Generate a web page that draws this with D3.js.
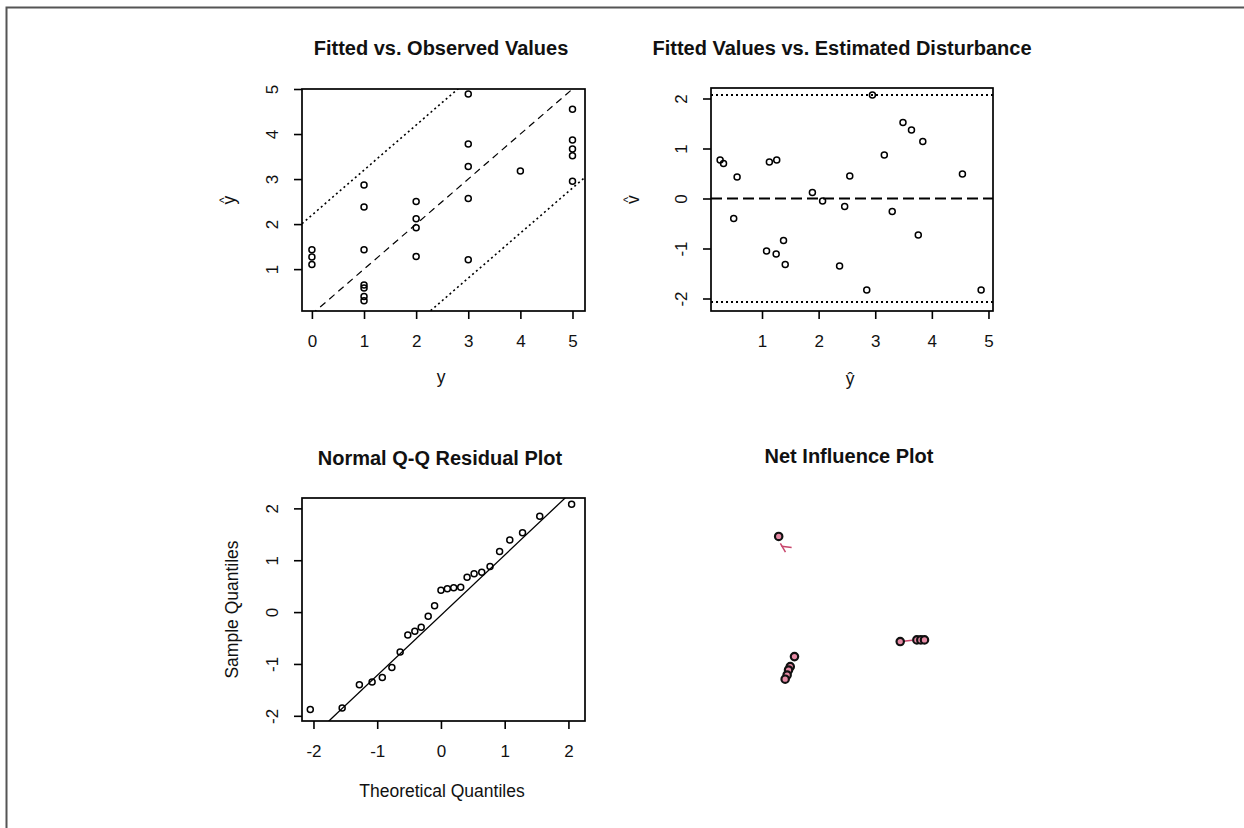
<!DOCTYPE html>
<html>
<head>
<meta charset="utf-8">
<script src="https://cdn.jsdelivr.net/npm/d3@7"></script>
<style>
  body { margin: 0; background: #fff; }
  svg { display: block; font-family: "Liberation Sans", Arial, sans-serif; }
</style>
</head>
<body>
<div id="chart"></div>
<script>
// =======================
// Data
// =======================
// Panel 1: observed y vs fitted y-hat
const observed = [0, 0, 0, 1, 1, 1, 1, 1, 1, 1, 2, 2, 2, 2, 3, 3, 3, 3, 3, 4, 5, 5, 5, 5, 5];
const fitted = [1.43, 1.27, 1.10, 2.87, 2.38, 1.43, 0.65, 0.58, 0.39, 0.30,
                2.50, 2.12, 1.92, 1.28, 4.89, 3.78, 3.28, 2.57, 1.21, 3.18,
                4.55, 3.87, 3.67, 3.52, 2.95];
const bandOffsets = [-2.2, 2.2];

// Panel 2: fitted values vs estimated disturbance
const fittedHat = [0.26, 0.32, 0.56, 0.50, 1.13, 1.26, 1.08, 1.25, 1.38, 1.41,
                   1.89, 2.07, 2.46, 2.55, 2.37, 2.85, 2.95, 3.16, 3.30, 3.49,
                   3.64, 3.84, 3.76, 4.54, 4.87];
const disturbance = [0.77, 0.70, 0.43, -0.40, 0.73, 0.77, -1.05, -1.11, -0.84, -1.32,
                     0.12, -0.05, -0.16, 0.45, -1.35, -1.83, 2.07, 0.87, -0.26, 1.52,
                     1.37, 1.14, -0.73, 0.49, -1.83];
const disturbanceBounds = [-2.07, 2.07];

// Panel 3: normal Q-Q
const theoretical = [-2.05, -1.55, -1.28, -1.08, -0.92, -0.77, -0.64, -0.52, -0.41, -0.31,
                     -0.20, -0.10, 0, 0.10, 0.20, 0.31, 0.41, 0.52, 0.64, 0.77,
                     0.92, 1.08, 1.28, 1.55, 2.05];
const sample = [-1.88, -1.85, -1.40, -1.35, -1.26, -1.07, -0.77, -0.44, -0.37, -0.29,
                -0.08, 0.12, 0.42, 0.45, 0.47, 0.48, 0.67, 0.74, 0.77, 0.88,
                1.17, 1.39, 1.53, 1.85, 2.08];
const qqCoef = [-0.06, 1.16]; // intercept, slope

// Panel 4: net influence (no axes, arbitrary units)
const influenceX = [2.40, 2.96, 2.81, 2.75, 2.70, 2.63, 6.71, 7.30, 7.44, 7.57];
const influenceY = [6.62, 2.31, 1.95, 1.83, 1.65, 1.50, 2.85, 2.91, 2.91, 2.91];
const influenceSegs = [[2.46, 6.37, 2.64, 6.06], [2.50, 6.27, 2.86, 6.22], [6.82, 2.86, 7.14, 2.90]];

// Tick values
const obsTicks = [0, 1, 2, 3, 4, 5];
const fitTicks = [1, 2, 3, 4, 5];
const hatTicks = [1, 2, 3, 4, 5];
const distTicks = [-2, -1, 0, 1, 2];
const qqTicks = [-2, -1, 0, 1, 2];

// =======================
// SVG
// =======================
const width = 1244, height = 828;
const svg = d3.select("#chart").append("svg")
    .attr("width", width)
    .attr("height", height);

svg.append("rect").attr("width", width).attr("height", height).attr("fill", "#fff");

// outer frame (top + left only)
svg.append("path")
    .attr("d", `M6.5,828V7.5H1244`)
    .attr("fill", "none")
    .attr("stroke", "#555")
    .attr("stroke-width", 2);

// =======================
// Helpers
// =======================
function panel(box, id) {
    const g = svg.append("g");
    g.append("clipPath").attr("id", id)
        .append("rect")
        .attr("x", box.x0).attr("y", box.y0)
        .attr("width", box.x1 - box.x0).attr("height", box.y1 - box.y0);
    return g;
}

function frameBox(g, box) {
    g.append("rect")
        .attr("x", box.x0).attr("y", box.y0)
        .attr("width", box.x1 - box.x0).attr("height", box.y1 - box.y0)
        .attr("fill", "none")
        .attr("stroke", "#000")
        .attr("stroke-width", 1.7);
}

function axes(g, box, xs, ys, xt, yt) {
    const ax = g.append("g")
        .attr("transform", `translate(0,${box.y1})`)
        .call(d3.axisBottom(xs).tickValues(xt).tickSize(8).tickFormat(d => String(d)));
    ax.select(".domain").remove();
    ax.selectAll("line").attr("stroke", "#000").attr("stroke-width", 1.6);
    ax.selectAll("text")
        .attr("y", 36).attr("dy", null)
        .attr("fill", "#111")
        .style("font-size", "17px");

    const ay = g.append("g")
        .attr("transform", `translate(${box.x0},0)`)
        .call(d3.axisLeft(ys).tickValues(yt).tickSize(8).tickFormat(d => String(d)));
    ay.select(".domain").remove();
    ay.selectAll("line").attr("stroke", "#000").attr("stroke-width", 1.6);
    ay.selectAll("text")
        .attr("transform", "rotate(-90)")
        .attr("x", 0).attr("y", -24).attr("dy", null)
        .attr("text-anchor", "middle")
        .attr("fill", "#111")
        .style("font-size", "17px");
}

function title(g, txt, x, y) {
    g.append("text")
        .attr("x", x).attr("y", y)
        .attr("text-anchor", "middle")
        .attr("font-weight", "bold")
        .attr("fill", "#111")
        .style("font-size", "20px")
        .text(txt);
}

function label(g, txt, x, y, rot) {
    g.append("text")
        .attr("transform", `translate(${x},${y}) rotate(${rot})`)
        .attr("text-anchor", "middle")
        .attr("fill", "#111")
        .style("font-size", "17.5px")
        .text(txt);
}

// letter with a hat above it, like R's hat(), kept in one text element
function hatLabel(g, letter, x, y, rot) {
    const t = g.append("text")
        .attr("transform", `translate(${x + 2},${y}) rotate(${rot})`)
        .attr("text-anchor", "middle")
        .attr("fill", "#111")
        .style("font-size", "17.5px");
    t.append("tspan").text(letter);
    t.append("tspan")
        .attr("dx", -7.4).attr("dy", -7.5)
        .style("font-size", "12px")
        .text("^");
}

function points(g, xs, ys, xv, yv) {
    g.append("g").selectAll("circle")
        .data(xv)
        .enter()
        .append("circle")
        .attr("cx", d => xs(d))
        .attr("cy", (d, i) => ys(yv[i]))
        .attr("r", 3)
        .attr("fill", "none")
        .attr("stroke", "#000")
        .attr("stroke-width", 1.5);
}

function abline(g, xs, ys, a, b, dash, sw, clipId) {
    const [d0, d1] = xs.domain();
    g.append("line")
        .attr("clip-path", `url(#${clipId})`)
        .attr("x1", xs(d0)).attr("y1", ys(a + b * d0))
        .attr("x2", xs(d1)).attr("y2", ys(a + b * d1))
        .attr("stroke", "#000")
        .attr("stroke-width", sw)
        .attr("stroke-dasharray", dash);
}

// =======================
// Panel 1: Fitted vs. Observed
// =======================
{
    const box = { x0: 302, x1: 585, y0: 89, y1: 311 };
    const g = panel(box, "c1");
    const x = d3.scaleLinear().domain([-0.19, 5.24]).range([box.x0, box.x1]);
    const y = d3.scaleLinear().domain([0.07, 5.0]).range([box.y1, box.y0]);

    abline(g, x, y, 0, 1, "7,5", 1.2, "c1");
    bandOffsets.forEach(a => abline(g, x, y, a, 1, "2,3", 1.6, "c1"));
    points(g, x, y, observed, fitted);
    frameBox(g, box);
    axes(g, box, x, y, obsTicks, fitTicks);

    title(g, "Fitted vs. Observed Values", 441, 55);
    label(g, "y", 441, 383, 0);
    hatLabel(g, "y", 233, 200, -90);
}

// =======================
// Panel 2: Fitted Values vs. Estimated Disturbance
// =======================
{
    const box = { x0: 711, x1: 993, y0: 88, y1: 311 };
    const g = panel(box, "c2");
    const x = d3.scaleLinear().domain([0.099, 5.08]).range([box.x0, box.x1]);
    const y = d3.scaleLinear().domain([-2.25, 2.21]).range([box.y1, box.y0]);

    abline(g, x, y, 0, 0, "11,5", 2, "c2");
    disturbanceBounds.forEach(a => abline(g, x, y, a, 0, "2,3", 2, "c2"));
    points(g, x, y, fittedHat, disturbance);
    frameBox(g, box);
    axes(g, box, x, y, hatTicks, distTicks);

    title(g, "Fitted Values vs. Estimated Disturbance", 842, 55);
    label(g, "ŷ", 850, 385, 0);
    hatLabel(g, "v", 637, 199.5, -90);
}

// =======================
// Panel 3: Normal Q-Q
// =======================
{
    const box = { x0: 302, x1: 585, y0: 498, y1: 721 };
    const g = panel(box, "c3");
    const x = d3.scaleLinear().domain([-2.18, 2.26]).range([box.x0, box.x1]);
    const y = d3.scaleLinear().domain([-2.1, 2.2]).range([box.y1, box.y0]);

    abline(g, x, y, qqCoef[0], qqCoef[1], null, 1.3, "c3");
    points(g, x, y, theoretical, sample);
    frameBox(g, box);
    axes(g, box, x, y, qqTicks, qqTicks);

    title(g, "Normal Q-Q Residual Plot", 440, 465);
    label(g, "Theoretical Quantiles", 442, 797, 0);
    label(g, "Sample Quantiles", 238, 609.5, -90);
}

// =======================
// Panel 4: Net Influence
// =======================
{
    const box = { x0: 711, x1: 993, y0: 498, y1: 721 };
    const g = panel(box, "c4");
    const x = d3.scaleLinear().domain([0, 10]).range([box.x0, box.x1]);
    const y = d3.scaleLinear().domain([0, 8]).range([box.y1, box.y0]);

    g.append("g").selectAll("line")
        .data(influenceSegs)
        .enter()
        .append("line")
        .attr("x1", d => x(d[0])).attr("y1", d => y(d[1]))
        .attr("x2", d => x(d[2])).attr("y2", d => y(d[3]))
        .attr("stroke", "#c8466c")
        .attr("stroke-width", 1.5);

    g.append("g").selectAll("circle")
        .data(influenceX)
        .enter()
        .append("circle")
        .attr("cx", d => x(d))
        .attr("cy", (d, i) => y(influenceY[i]))
        .attr("r", 3.7)
        .attr("fill", "#e68aa5")
        .attr("stroke", "#111")
        .attr("stroke-width", 2.2);

    title(g, "Net Influence Plot", 849, 463);
}
</script>
</body>
</html>
